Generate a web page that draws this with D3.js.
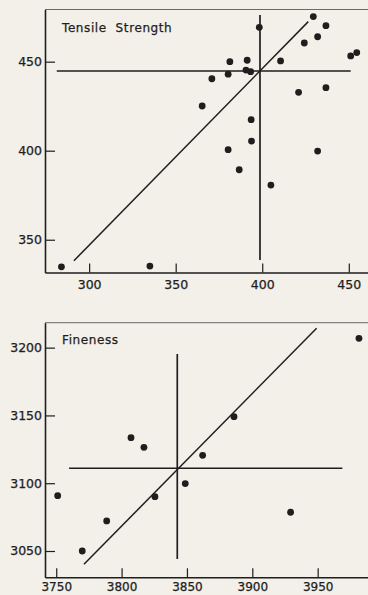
<!DOCTYPE html>
<html>
<head>
<meta charset="utf-8">
<script src="https://cdn.jsdelivr.net/npm/d3@7"></script>
<style>
  html, body { margin: 0; padding: 0; background: #f3efe9; overflow: hidden; }
  svg { display: block; }
  text { font-family: "DejaVu Sans", sans-serif; fill: #1e1e1e; }
</style>
</head>
<body>
<svg id="chart" width="368" height="595"></svg>
<script>
// ---------- Data: Tensile Strength ----------
const tensileTitle = "Tensile  Strength";
const tensileXTicks = [300, 350, 400, 450];
const tensileYTicks = [350, 400, 450];
const tensileX = [284.0, 335.1, 398.3, 429.5, 436.8, 432.0, 424.3, 451.1, 454.6, 410.6,
                  381.3, 391.3, 380.3, 370.9, 390.6, 393.3, 365.3, 421.0, 436.8, 393.6,
                  393.8, 380.3, 432.0, 386.7, 405.0];
const tensileY = [334.8, 335.2, 469.3, 475.3, 470.2, 464.0, 460.5, 453.2, 455.1, 450.4,
                  450.0, 450.8, 443.0, 440.4, 445.3, 444.4, 425.1, 432.8, 435.4, 417.4,
                  405.4, 400.6, 399.8, 389.3, 380.7];
const tensileMean = [398.7, 444.8];              // [x mean, y mean]
const tensileHLineX = [281.3, 451.1];            // extent of horizontal mean line
const tensileVLineY = [338.6, 476.2];            // extent of vertical mean line
const tensileFit = [[291.2, 338.2], [426.6, 472.5]];

// ---------- Data: Fineness ----------
const finenessTitle = "Fineness";
const finenessXTicks = [3750, 3800, 3850, 3900, 3950];
const finenessYTicks = [3050, 3100, 3150, 3200];
const finenessX = [3981.6, 3886.0, 3807.2, 3817.1, 3862.0, 3848.7, 3825.5, 3751.1, 3788.6, 3769.9, 3929.3];
const finenessY = [3206.9, 3149.1, 3133.6, 3126.5, 3120.6, 3099.7, 3090.1, 3090.8, 3072.2, 3050.0, 3078.6];
const finenessMean = [3842.6, 3111.0];
const finenessHLineX = [3759.8, 3968.9];
const finenessVLineY = [3044.1, 3195.3];
const finenessFit = [[3771.2, 3040.2], [3949.2, 3214.3]];

const svg = d3.select("#chart");
const ink = "#1e1e1e";

function panel(cfg) {
  const x = d3.scaleLinear().domain(cfg.xDomain).range([cfg.left, cfg.right]);
  const y = d3.scaleLinear().domain(cfg.yDomain).range([cfg.bottom, cfg.top]);
  const g = svg.append("g");

  // top border (thin, light)
  g.append("line")
    .attr("x1", cfg.left).attr("x2", 368)
    .attr("y1", cfg.top).attr("y2", cfg.top)
    .attr("stroke", "#6a6a6a").attr("stroke-width", 1);

  const xAxis = d3.axisBottom(x).tickValues(cfg.xTicks)
    .tickSizeInner(-9).tickSizeOuter(0).tickPadding(cfg.xPad).tickFormat(d3.format("d"));
  const yAxis = d3.axisLeft(y).tickValues(cfg.yTicks)
    .tickSizeInner(-10).tickSizeOuter(0).tickPadding(3).tickFormat(d3.format("d"));

  const gx = g.append("g").attr("transform", `translate(0,${cfg.bottom})`).call(xAxis);
  const gy = g.append("g").attr("transform", `translate(${cfg.left},0)`).call(yAxis);
  [gx, gy].forEach(a => {
    a.selectAll(".domain").attr("stroke", ink).attr("stroke-width", 1.6);
    a.selectAll(".tick line").attr("stroke", ink).attr("stroke-width", 1.2);
    a.selectAll(".tick text").attr("font-family", "DejaVu Sans, sans-serif")
      .attr("font-size", 12.5).attr("fill", ink)
      .attr("stroke", ink).attr("stroke-width", 0.25);
  });
  gx.selectAll(".tick text").attr("font-size", cfg.xFont);

  // mean cross-hair lines
  g.append("line")
    .attr("x1", x(cfg.hLineX[0])).attr("x2", x(cfg.hLineX[1]))
    .attr("y1", y(cfg.mean[1])).attr("y2", y(cfg.mean[1]))
    .attr("stroke", ink).attr("stroke-width", 1.4);
  g.append("line")
    .attr("x1", x(cfg.mean[0])).attr("x2", x(cfg.mean[0]))
    .attr("y1", y(cfg.vLineY[0])).attr("y2", y(cfg.vLineY[1]))
    .attr("stroke", ink).attr("stroke-width", 1.7);

  // regression line
  g.append("line")
    .attr("x1", x(cfg.fit[0][0])).attr("y1", y(cfg.fit[0][1]))
    .attr("x2", x(cfg.fit[1][0])).attr("y2", y(cfg.fit[1][1]))
    .attr("stroke", ink).attr("stroke-width", 1.5);

  // points
  g.selectAll("circle.pt").data(cfg.xs.map((v, i) => [v, cfg.ys[i]]))
    .join("circle").attr("class", "pt")
    .attr("cx", d => x(d[0])).attr("cy", d => y(d[1]))
    .attr("r", 3.4).attr("fill", ink);

  // title
  g.append("text")
    .attr("x", cfg.left + 17).attr("y", cfg.titleY)
    .attr("font-size", 12).attr("letter-spacing", 0.6)
    .attr("stroke", ink).attr("stroke-width", 0.25)
    .attr("xml:space", "preserve").style("white-space", "pre")
    .text(cfg.title);
}

panel({
  title: tensileTitle, titleY: 31.5,
  xDomain: [274.5, 466.3], yDomain: [331.6, 479.3],
  left: 45, right: 377, top: 9.5, bottom: 272.5,
  xPad: 7.5, xFont: 12.5,
  xTicks: tensileXTicks, yTicks: tensileYTicks,
  xs: tensileX, ys: tensileY, mean: tensileMean,
  hLineX: tensileHLineX, vLineY: tensileVLineY, fit: tensileFit
});

panel({
  title: finenessTitle, titleY: 344.3,
  xDomain: [3741.4, 3995.4], yDomain: [3030.6, 3218.4],
  left: 45, right: 377, top: 322.7, bottom: 577.3,
  xPad: 5.5, xFont: 12,
  xTicks: finenessXTicks, yTicks: finenessYTicks,
  xs: finenessX, ys: finenessY, mean: finenessMean,
  hLineX: finenessHLineX, vLineY: finenessVLineY, fit: finenessFit
});
</script>
</body>
</html>
